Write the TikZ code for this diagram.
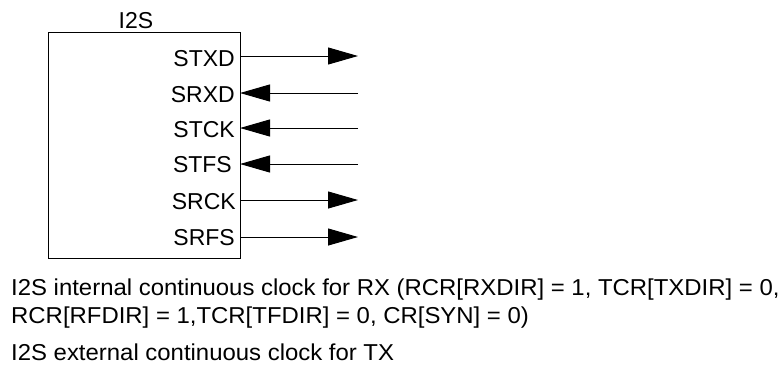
\documentclass[tikz,border=0pt]{standalone}
\usepackage{fontspec}
\setmainfont{Liberation Sans}
\usetikzlibrary{arrows.meta}

\newcommand{\notewide}[1]{\scalebox{1.04}[1]{#1}}

\tikzset{
  pinlabel/.style={anchor=base east, inner sep=0pt, font=\fontsize{23}{27}\selectfont},
  notetext/.style={anchor=base west, inner sep=0pt, font=\fontsize{23}{27}\selectfont},
  sig/.style={line width=1pt, -{Triangle[length=30pt,width=17pt]}}
}

\begin{document}
\begin{tikzpicture}[x=1pt,y=-1pt]
\useasboundingbox (0,0) rectangle (783,365);

\node[draw, line width=1.2pt, minimum width=192pt, minimum height=226.5pt, inner sep=0pt, anchor=north west] (i2s) at (48,31.5) {};
\node[anchor=base, inner sep=0pt, font=\fontsize{23}{27}\selectfont] (title) at (136,28.3) {I2S};

\node[pinlabel] (stxd) at (235,66) {STXD};
\node[pinlabel] (srxd) at (235,102) {SRXD};
\node[pinlabel] (stck) at (235,137) {STCK};
\node[pinlabel] (stfs) at (232,172) {STFS};
\node[pinlabel] (srck) at (236,209) {SRCK};
\node[pinlabel] (srfs) at (235,245) {SRFS};

\coordinate (stxd-a) at (240,56);   \coordinate (stxd-b) at (358,56);
\coordinate (srxd-a) at (240,93);   \coordinate (srxd-b) at (358,93);
\coordinate (stck-a) at (240,128);  \coordinate (stck-b) at (358,128);
\coordinate (stfs-a) at (240,164);  \coordinate (stfs-b) at (358,164);
\coordinate (srck-a) at (240,200);  \coordinate (srck-b) at (358,200);
\coordinate (srfs-a) at (240,237);  \coordinate (srfs-b) at (358,237);

\draw[sig] (stxd-a) -- (stxd-b);
\draw[sig] (srxd-b) -- (srxd-a);
\draw[sig] (stck-b) -- (stck-a);
\draw[sig] (stfs-b) -- (stfs-a);
\draw[sig] (srck-a) -- (srck-b);
\draw[sig] (srfs-a) -- (srfs-b);

\node[notetext] (note1) at (11,295) {\notewide{I2S internal continuous clock for RX (RCR[RXDIR] = 1, TCR[TXDIR] = 0,}};
\node[notetext] (note2) at (11,323.3) {\notewide{RCR[RFDIR] = 1,TCR[TFDIR] = 0, CR[SYN] = 0)}};
\node[notetext] (note3) at (11,360) {\notewide{I2S external continuous clock for TX}};
\end{tikzpicture}
\end{document}
